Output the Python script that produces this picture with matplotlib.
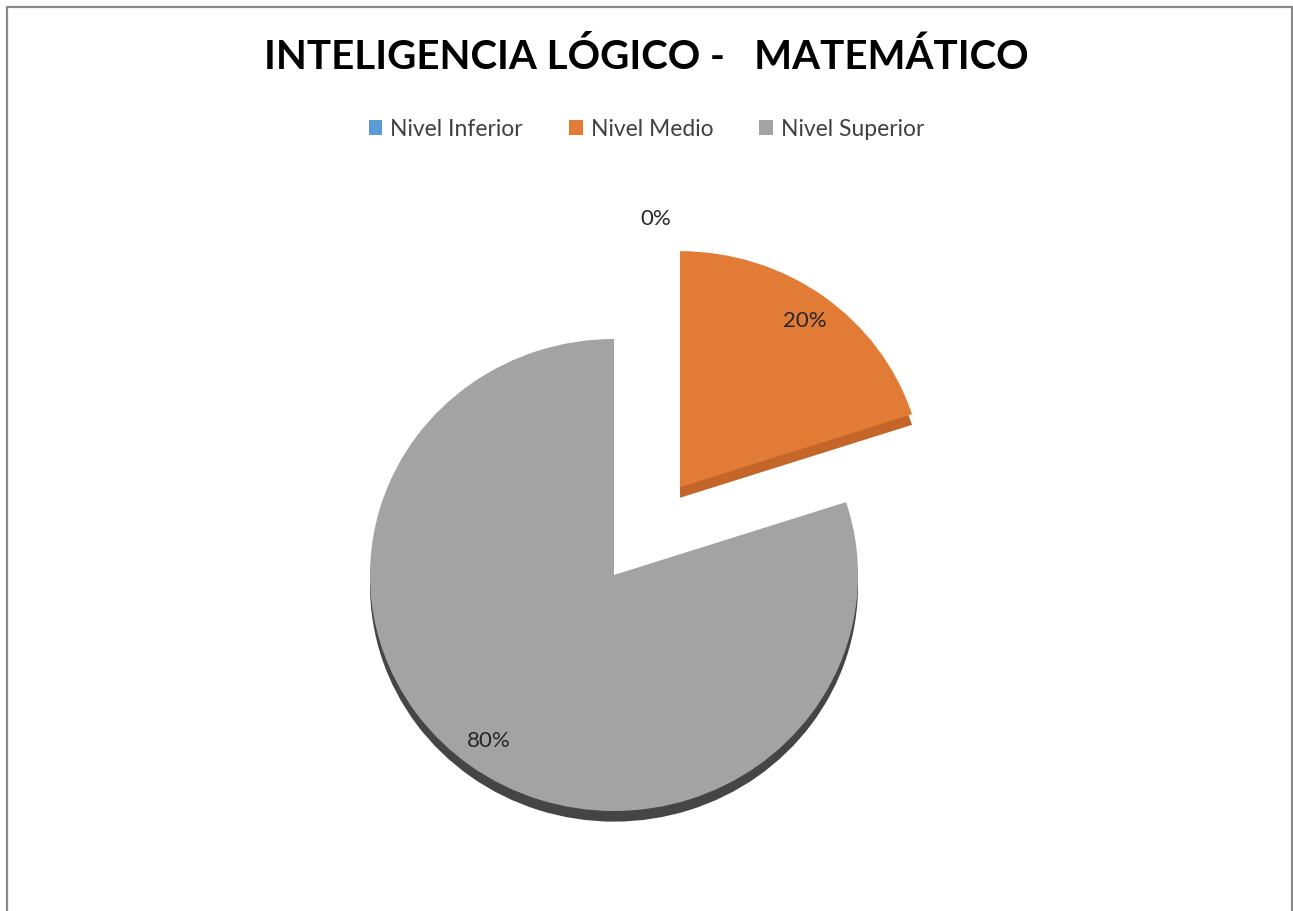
import numpy as np
import matplotlib
matplotlib.use("Agg")
import matplotlib.pyplot as plt
from matplotlib.patches import Rectangle

# data
categorias = ["Nivel Inferior", "Nivel Medio", "Nivel Superior"]
valores = [0, 20, 80]
colores = ["#5B9BD5", "#E27B35", "#A3A3A3"]
colores_lado = ["#41719C", "#C4652A", "#454545"]
separacion = [0.0, 0.46, 0.0]
titulo = "INTELIGENCIA LÓGICO -   MATEMÁTICO"

plt.rcParams['font.family'] = ['Lato', 'DejaVu Sans']

W, H = 1293, 911
fig = plt.figure(figsize=(W / 100, H / 100), dpi=100)

# outer frame
fig.patches.append(Rectangle((6.5 / W, -0.02), (1291.5 - 6.5) / W, 1.02 - 7 / H,
                             transform=fig.transFigure, fill=False,
                             edgecolor="#8a8a8a", linewidth=1.6))

fig.text(0.5, 1 - 57 / H, titulo, ha="center", va="center",
         fontsize=29, fontweight="bold", color="black")

# pie axes: centre (614, 575) px, rx 244 px, ry 236 px per unit
cx, cy, rx, ry = 614, 575, 244, 236
span = 2.5
ax = fig.add_axes([(cx - span * rx) / W, (H - cy - span * ry) / H,
                   2 * span * rx / W, 2 * span * ry / H])

# side (depth) layer
ax.pie(valores, colors=colores_lado, explode=separacion, startangle=90,
       counterclock=False, center=(0, -0.045), frame=True,
       wedgeprops=dict(linewidth=0))

wedges, texts, autotexts = ax.pie(valores, colors=colores, explode=separacion,
                                  startangle=90, counterclock=False,
                                  autopct="%1.0f%%", pctdistance=0.87,
                                  frame=True, wedgeprops=dict(linewidth=0),
                                  textprops=dict(fontsize=16, color="#262626"))
ax.set_aspect("auto")
ax.set_xlim(-span, span)
ax.set_ylim(-span, span)
ax.axis("off")

for v, t in zip(valores, autotexts):
    if v == 0:
        t.set_position((0.17, 1.51))

leg = fig.legend(wedges, categorias, loc="center", bbox_to_anchor=(0.5, 1 - 129 / H),
                 ncol=3, frameon=False, fontsize=16.5, handlelength=0.6,
                 handleheight=0.6, columnspacing=2.0, handletextpad=0.35)
for t in leg.get_texts():
    t.set_color("#404040")

fig.savefig("out.png", dpi=100)
